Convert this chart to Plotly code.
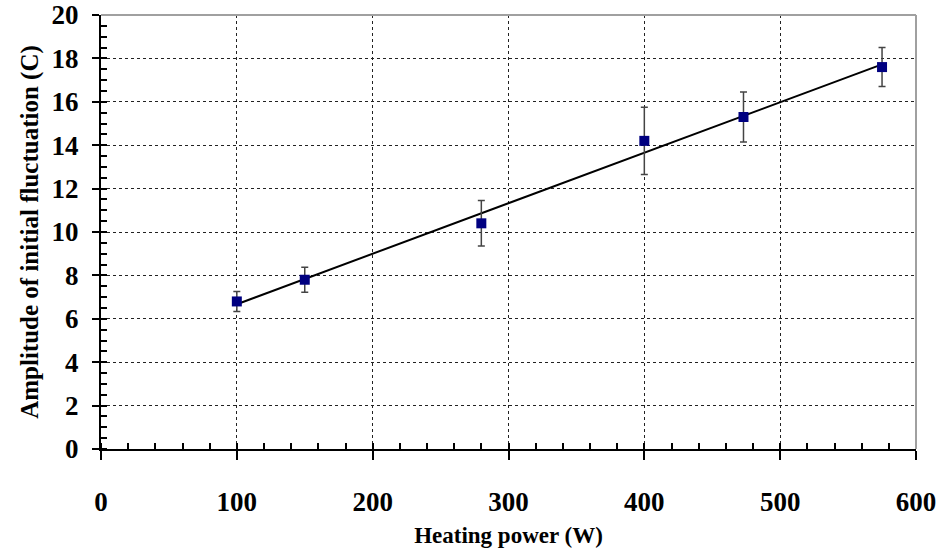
import numpy as np
import plotly.graph_objects as go

# Data
power_w = [100, 150, 280, 400, 473, 575]
amplitude_c = [6.8, 7.8, 10.4, 14.2, 15.3, 17.6]
error_c = [0.46, 0.58, 1.05, 1.55, 1.15, 0.9]

x_ticks = [0, 100, 200, 300, 400, 500, 600]
y_ticks = [0, 2, 4, 6, 8, 10, 12, 14, 16, 18, 20]

# Linear trend line fitted to the data
slope, intercept = np.polyfit(power_w, amplitude_c, 1)
fit_x = [min(power_w), max(power_w)]
fit_y = [slope * v + intercept for v in fit_x]

FONT = "Liberation Serif"

fig = go.Figure()
fig.add_trace(go.Scatter(
    x=fit_x, y=fit_y, mode="lines",
    line=dict(color="black", width=2), hoverinfo="skip", showlegend=False,
))
fig.add_trace(go.Scatter(
    x=power_w, y=amplitude_c, mode="markers",
    marker=dict(symbol="square", size=10, color="#000080"),
    error_y=dict(type="data", array=error_c, visible=True,
                 color="#444444", thickness=1.5, width=3.5),
    showlegend=False,
))

fig.update_layout(
    width=941, height=554,
    margin=dict(l=101, r=25, t=15, b=105),
    plot_bgcolor="white", paper_bgcolor="white",
    font=dict(family=FONT, size=20, color="black"),
    shapes=[
        dict(type="line", xref="paper", yref="paper", x0=0, x1=1, y0=1, y1=1,
             line=dict(color="#a0a0a0", width=2)),
        dict(type="line", xref="paper", yref="paper", x0=1, x1=1, y0=0, y1=1,
             line=dict(color="#a0a0a0", width=2)),
    ],
)

fig.update_xaxes(
    range=[0, 600], tickvals=x_ticks, ticktext=[f"<b>{v}</b>" for v in x_ticks],
    automargin=False,
    showline=True, linecolor="black", linewidth=2,
    ticks="outside", ticklen=9, tickwidth=2, tickcolor="black",
    ticklabelstandoff=19,
    showgrid=True, gridcolor="#222222", gridwidth=1, griddash="3px,3px",
    zeroline=False,
    minor=dict(dtick=20, ticks="inside", ticklen=6, tickwidth=1.5, tickcolor="black", showgrid=False),
    title=dict(text="<b>Heating power (W)</b>", font=dict(family=FONT, size=23), standoff=10),
    tickfont=dict(family=FONT, size=27),
)
fig.update_yaxes(
    range=[0, 20], tickvals=y_ticks, ticktext=[f"<b>{v}</b>" for v in y_ticks],
    automargin=False,
    showline=True, linecolor="black", linewidth=2,
    ticks="outside", ticklen=7, tickwidth=2, tickcolor="black",
    ticklabelstandoff=8,
    showgrid=True, gridcolor="#222222", gridwidth=1, griddash="3px,3px",
    zeroline=False,
    minor=dict(dtick=0.5, ticks="inside", ticklen=6, tickwidth=1.5, tickcolor="black", showgrid=False),
    title=dict(text="<b>Amplitude of initial fluctuation (C)</b>", font=dict(family=FONT, size=25), standoff=6),
    tickfont=dict(family=FONT, size=27),
)

fig.write_html("out.html")
